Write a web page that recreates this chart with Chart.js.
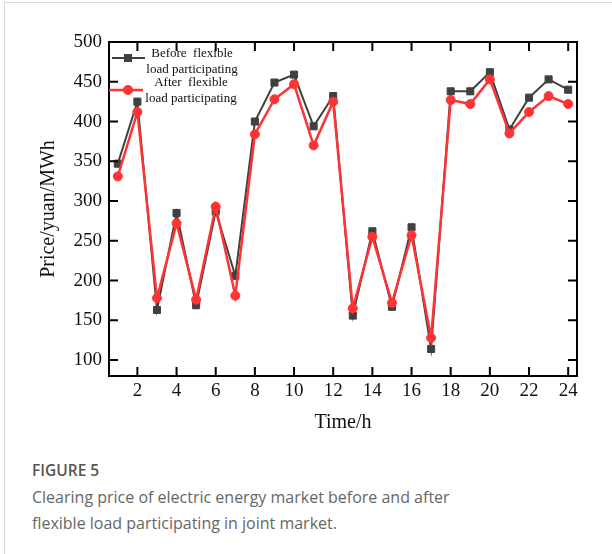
<!DOCTYPE html>
<html>
<head>
<meta charset="utf-8">
<script src="https://cdn.jsdelivr.net/npm/chart.js@4/dist/chart.umd.min.js"></script>
<style>
  body { margin:0; background:#fff; width:612px; height:554px; overflow:hidden; position:relative; }
  #frame { position:absolute; left:4px; top:2px; width:608px; height:552px; border-left:1px solid #d9d9d9; border-top:1px solid #d9d9d9; }
  #c { position:absolute; left:0; top:0; }
  .fig { position:absolute; left:32px; top:459px; font:600 15.5px "Open Sans", sans-serif; color:#555; }
  .cap { position:absolute; left:32px; top:485px; width:560px; font:16px/25.5px "Open Sans", sans-serif; color:#666; }
</style>
</head>
<body>
<div id="frame"></div>
<canvas id="c" width="612" height="440"></canvas>
<div class="fig">FIGURE 5</div>
<div class="cap">Clearing price of electric energy market before and after<br>flexible load participating in joint market.</div>
<script>
// ===== Data =====
const hours = [1,2,3,4,5,6,7,8,9,10,11,12,13,14,15,16,17,18,19,20,21,22,23,24];
const beforeFlex = [347,425,163,285,169,287,206,400,449,459,394,432,156,262,167,267,114,438,438,462,390,430,453,440];
const afterFlex  = [331,412,178,272,176,293,181,384,428,447,370,425,165,255,172,257,128,427,422,453,385,412,432,422];
const xTicks = [2,4,6,8,10,12,14,16,18,20,22,24];
const yTicks = [100,150,200,250,300,350,400,450,500];
const legendBefore = ["Before  flexible","load participating"];
const legendAfter  = ["After  flexible","load participating"];

const GRAY = "#404040", RED = "#ff3333";
const serif = '"Liberation Serif", "Times New Roman", serif';

// ===== Frame, inward ticks, legend =====
const framePlugin = {
  id: "frame",
  afterDraw(chart){
    const ctx = chart.ctx, a = chart.chartArea;
    const xs = chart.scales.x, ys = chart.scales.y, tl = 9;
    ctx.save();
    ctx.strokeStyle = "#000"; ctx.lineWidth = 2;
    ctx.strokeRect(a.left, a.top, a.right - a.left, a.bottom - a.top);
    ctx.beginPath();
    xTicks.forEach(v=>{
      const px = xs.getPixelForValue(v);
      ctx.moveTo(px, a.bottom); ctx.lineTo(px, a.bottom - tl);
      ctx.moveTo(px, a.top); ctx.lineTo(px, a.top + tl);
    });
    yTicks.forEach(v=>{
      const py = ys.getPixelForValue(v);
      ctx.moveTo(a.left, py); ctx.lineTo(a.left + tl, py);
      ctx.moveTo(a.right, py); ctx.lineTo(a.right - tl, py);
    });
    ctx.stroke();

    // legend
    const lx = a.left, ly = a.top;
    ctx.lineWidth = 2; ctx.strokeStyle = GRAY;
    ctx.beginPath(); ctx.moveTo(lx + 3, ly + 16); ctx.lineTo(lx + 36, ly + 16); ctx.stroke();
    ctx.fillStyle = GRAY; ctx.fillRect(lx + 15, ly + 12, 8, 8);
    ctx.lineWidth = 2.5; ctx.strokeStyle = RED;
    ctx.beginPath(); ctx.moveTo(lx, ly + 48); ctx.lineTo(lx + 34, ly + 48); ctx.stroke();
    ctx.fillStyle = RED; ctx.beginPath(); ctx.arc(lx + 19, ly + 48, 5, 0, Math.PI*2); ctx.fill();

    ctx.fillStyle = "#111"; ctx.font = "13px " + serif;
    ctx.textAlign = "center"; ctx.textBaseline = "middle";
    ctx.fillText(legendBefore[0], lx + 83, ly + 12);
    ctx.fillText(legendBefore[1], lx + 83, ly + 28);
    ctx.fillText(legendAfter[0], lx + 82, ly + 41);
    ctx.fillText(legendAfter[1], lx + 82, ly + 57);
    ctx.restore();
  }
};

// ===== Chart =====
new Chart(document.getElementById("c"), {
  type: "line",
  data: {
    datasets: [
      {
        label: "After flexible load participating",
        data: hours.map((h,i)=>({x:h, y:afterFlex[i]})),
        borderColor: RED, backgroundColor: RED, borderWidth: 2.5,
        pointStyle: "circle", pointRadius: 4.5, pointBorderWidth: 1,
        tension: 0, order: 0
      },
      {
        label: "Before flexible load participating",
        data: hours.map((h,i)=>({x:h, y:beforeFlex[i]})),
        borderColor: GRAY, backgroundColor: GRAY, borderWidth: 2,
        pointStyle: "rect", pointRadius: 5, pointBorderWidth: 1,
        tension: 0, order: 1
      }
    ]
  },
  options: {
    responsive: false,
    animation: false,
    layout: { padding: { left: 0, right: 35, top: 42, bottom: 0 } },
    plugins: { legend: { display: false }, tooltip: { enabled: false } },
    scales: {
      x: {
        type: "linear", min: 0.55, max: 24.45,
        afterBuildTicks: s => { s.ticks = xTicks.map(v=>({value:v})); },
        afterFit: s => { s.height = 64; },
        grid: { display: false, drawTicks: false },
        border: { display: false },
        ticks: { padding: 4, color: "#111", font: { family: serif, size: 19 } },
        title: { display: true, text: "Time/h", color: "#111", font: { family: serif, size: 20 }, padding: { top: 0, bottom: 5 } }
      },
      y: {
        type: "linear", min: 80, max: 500,
        afterBuildTicks: s => { s.ticks = yTicks.map(v=>({value:v})); },
        afterFit: s => { s.width = 109; },
        grid: { display: false, drawTicks: false },
        border: { display: false },
        ticks: { padding: 7, color: "#111", font: { family: serif, size: 19 } },
        title: { display: true, text: "Price/yuan/MWh", color: "#111", font: { family: serif, size: 20 }, padding: { top: 37, bottom: 0 } }
      }
    }
  },
  plugins: [framePlugin]
});
</script>
</body>
</html>
